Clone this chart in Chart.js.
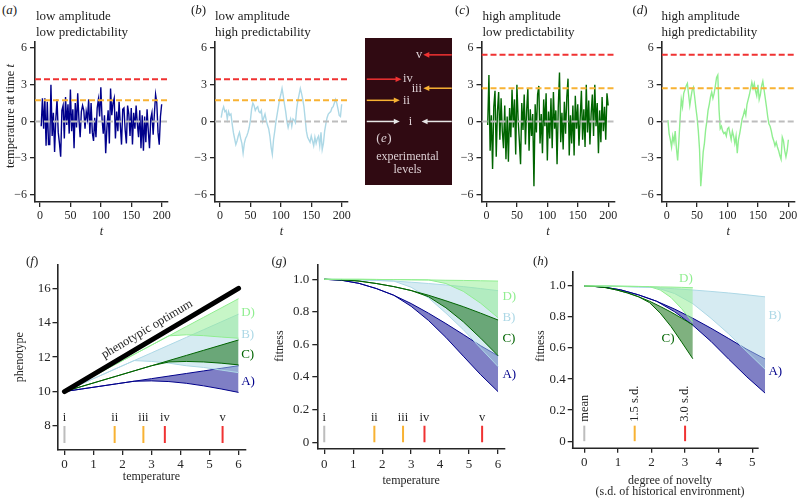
<!DOCTYPE html>
<html><head><meta charset="utf-8">
<script src="https://cdn.jsdelivr.net/npm/chart.js@4/dist/chart.umd.min.js"></script>
<style>
html,body{margin:0;padding:0;width:798px;height:500px;overflow:hidden;background:#fff;position:relative;}
canvas{position:absolute;}
.t{position:absolute;font-family:'Liberation Serif','Times New Roman',serif;color:#222;white-space:nowrap;font-size:13px;line-height:15px;z-index:2;}
</style></head><body>
<script>
// ---------------- DATA ----------------
const timeSteps = []; for (let t = 2; t <= 200; t += 2) timeSteps.push(t);
// (a) low amplitude, low predictability
const seriesA = [
 -0.4, 1.9, -0.6, 1.9, -2.0, 1.6, -1.9, -1.9, 3.0, -1.2,
 0.7, -2.5, 0.2, 1.8, -0.9, -1.8, -2.9, 0.9, 1.3, -1.4,
 2.0, -0.3, 1.4, -1.0, 2.6, -0.8, 1.0, -2.2, 1.5, -0.5,
 2.3, 0.2, -1.3, 0.8, 1.3, 0.9, -0.6, 0.8, 0.2, 1.8,
 -1.0, 1.5, -0.9, -1.6, 0.3, -1.3, 1.1, 1.8, 0.4, 2.8,
 0.2, -1.0, 0.5, -2.6, -0.5, 0.9, -1.8, 2.7, 0.5, 1.5,
 1.9, -1.4, 0.8, -0.8, 1.6, -0.3, -1.9, 1.0, 1.1, -0.7,
 -1.8, 1.3, 0.6, -1.2, 1.1, -1.9, 0.7, -0.6, 1.3, -0.2,
 -1.3, 0.9, -2.2, 0.5, -2.4, 0.4, -1.7, 1.0, -0.8, -2.2,
 0.2, 0.7, -1.1, 0.6, 2.2, 1.5, -0.9, -1.9, 0.4, 1.4];
// (b) low amplitude, high predictability
const seriesB = [
 0.3, 0.9, 1.2, 0.8, 0.9, 0.2, 0.8, 0.5, 0.6, -0.2,
 -0.9, -1.4, -1.9, -1.6, -1.2, -0.9, -1.4, -1.8, -2.6, -1.8,
 -1.4, -1.2, -0.9, -0.5, 0.1, 1.0, 1.5, 1.3, 0.9, 1.1,
 1.2, 0.8, 0.7, 0.9, 0.0, 0.3, 0.6, 0.1, -0.3, -0.6,
 -1.2, -2.1, -2.7, -1.5, -0.8, 0.0, 0.6, 1.2, 1.8, 2.2,
 2.7, 2.1, 1.4, 0.8, 0.0, -0.5, -0.1, 0.2, -0.4, 0.2,
 0.1, -0.1, 1.0, 1.7, 2.2, 2.7, 2.3, 1.8, 1.2, 0.2,
 -0.8, -1.3, -1.5, -1.7, -1.2, -1.6, -2.0, -1.3, -1.8, -1.4,
 -1.2, -2.0, -0.9, -2.3, -1.8, -0.8, -0.2, 0.3, 0.6, 0.7,
 0.8, 1.1, 1.2, 1.5, 1.8, 1.5, 1.0, 0.5, 0.4, 1.4];
// (c) high amplitude, low predictability
const seriesC = [
 -0.3, 3.8, -2.4, 0.5, -3.9, 1.2, 2.5, -2.9, 0.8, 2.4,
 -1.5, 1.9, -0.8, -2.2, 1.3, -3.1, 0.4, -3.3, 1.1, -1.3,
 2.6, -0.5, 1.8, -2.7, 3.0, 0.2, -1.6, -3.5, 1.5, -0.7,
 2.2, -1.9, 0.9, 2.7, -2.4, 1.0, -1.2, 0.6, -5.3, 1.4,
 -0.9, 2.2, 2.9, -1.8, 0.6, -2.6, 1.8, -0.4, 2.3, -3.2,
 0.8, -1.4, 1.9, -2.2, 2.4, -0.6, 0.9, -3.5, 1.2, 4.0,
 -1.7, 0.7, -2.3, 1.6, -1.0, 2.0, 3.5, -2.8, 0.5, -1.8,
 1.3, -2.8, 2.1, -0.6, 1.4, -2.0, 0.3, 2.5, -1.5, 1.0,
 -2.1, 3.0, -0.9, 1.7, -1.9, 0.6, 2.2, -1.2, 3.0, -0.4,
 1.5, -2.6, 0.9, -1.7, 2.0, -0.8, 1.2, -1.5, 2.3, 1.3];
// (d) high amplitude, high predictability
const seriesD = [
 0.1, -1.0, -1.5, -2.1, -1.2, -1.7, -0.8, -2.2, -3.2, -1.6,
 0.2, 1.8, 1.2, 2.3, 2.6, 2.9, 3.1, 2.2, 1.3, 2.0,
 2.6, 2.8, 2.0, 1.1, 0.3, -0.8, -2.3, -5.3, -4.0, -2.5,
 -1.8, -0.7, 0.0, 0.9, 1.4, 2.0, 2.4, 1.9, 2.3, 2.9,
 3.6, 3.8, 1.0, -0.6, -0.4, -0.8, -1.0, -0.9, -1.2, -0.6,
 -0.5, -1.0, -1.5, -0.8, -1.2, -1.8, -1.2, -2.6, -1.5, -1.0,
 -0.4, 0.2, 0.5, 0.9, 0.5, 1.4, 1.8, 2.2, 2.7, 3.2,
 2.7, 3.1, 2.5, 2.1, 3.0, 1.8, 2.2, 2.9, 3.3, 2.6,
 1.9, 1.2, 0.4, -0.2, -0.4, -0.8, -1.3, -1.6, -2.0, -1.7,
 -2.1, -2.4, -2.8, -3.1, -1.3, -1.6, -2.4, -2.9, -2.4, -1.5];

// experimental levels (temperature): i, ii, iii, iv, v
const levelNames = ['i', 'ii', 'iii', 'iv', 'v'];
const levelValues = [0, 1.73, 2.72, 3.46, 5.45];
const lowAmpLevels = [0, 1.73, 3.46];   // i, ii, iv
const highAmpLevels = [0, 2.72, 5.45];  // i, iii, v
const noveltyNames = ['mean', '1.5 s.d.', '3.0 s.d.'];
const noveltyValues = [0, 1.5, 3.0];

// tick labels
const tsTicksX = [0, 50, 100, 150, 200];
const tsTicksY = [-6, -3, 0, 3, 6];
const tempTicks = [0, 1, 2, 3, 4, 5, 6];
const phenoTicks = [8, 10, 12, 14, 16];
const fitTicks = [0, 0.2, 0.4, 0.6, 0.8, 1.0];
const novTicks = [0, 1, 2, 3, 4, 5];

// (f) phenotype vs temperature
const optimumTemp = [0, 6];
const optimumPheno = [10, 16];
const tempGrid = [0, 0.6, 1.2, 1.8, 2.4, 3, 3.6, 4.2, 4.8, 5.4, 6];
const phenoAUp = [10, 10.15, 10.3, 10.45, 10.6, 10.75, 10.9, 11.05, 11.2, 11.35, 11.5];
const phenoALo = [10, 10.15, 10.3, 10.45, 10.6, 10.62, 10.58, 10.48, 10.33, 10.15, 9.95];
const phenoBUp = [10, 10.45, 10.9, 11.35, 11.8, 12.25, 12.7, 13.15, 13.6, 14.05, 14.5];
const phenoBLo = [10, 10.45, 10.9, 11.35, 11.8, 11.75, 11.65, 11.5, 11.4, 11.25, 11.1];
const phenoCUp = [10, 10.3, 10.6, 10.9, 11.2, 11.5, 11.8, 12.1, 12.4, 12.7, 13.0];
const phenoCLo = [10, 10.3, 10.6, 10.9, 11.2, 11.5, 11.72, 11.75, 11.72, 11.65, 11.55];
const phenoDUp = [10, 10.54, 11.08, 11.62, 12.16, 12.7, 13.24, 13.78, 14.32, 14.86, 15.4];
const phenoDLo = [10, 10.54, 11.08, 11.62, 12.16, 12.7, 13.24, 13.3, 13.25, 13.17, 13.1];

// (g) fitness vs temperature
const fitAUp = [1, 0.994, 0.975, 0.943, 0.902, 0.851, 0.792, 0.728, 0.661, 0.592, 0.53];
const fitALo = [1, 0.994, 0.975, 0.943, 0.902, 0.834, 0.747, 0.643, 0.528, 0.414, 0.31];
const fitBUp = [1, 0.999, 0.997, 0.993, 0.989, 0.982, 0.974, 0.965, 0.955, 0.943, 0.93];
const fitBLo = [1, 0.999, 0.997, 0.993, 0.989, 0.951, 0.886, 0.792, 0.691, 0.577, 0.464];
const fitCUp = [1, 0.997, 0.989, 0.974, 0.955, 0.931, 0.902, 0.868, 0.832, 0.792, 0.75];
const fitCLo = [1, 0.997, 0.989, 0.974, 0.955, 0.931, 0.893, 0.825, 0.739, 0.638, 0.531];
const fitDUp = [1, 1.0, 1.0, 0.999, 0.998, 0.997, 0.996, 0.994, 0.993, 0.991, 0.989];
const fitDLo = [1, 1.0, 1.0, 0.999, 0.998, 0.997, 0.996, 0.974, 0.926, 0.853, 0.764];

// (h) fitness vs degree of novelty
const novGridLowAmp = [0, 0.54, 1.08, 1.61, 2.15, 2.69, 3.23, 3.77, 4.30, 4.84, 5.38];
const novGridHighAmp = [0, 0.32, 0.65, 0.97, 1.29, 1.61, 1.94, 2.26, 2.58, 2.90, 3.23];

// ---------------- STYLE ----------------
const FONT = "'Liberation Serif','Times New Roman',serif";
const AXIS = '#262626', TXT = '#262626';
const NAVY = '#00008b', LBLUE = '#add8e6', DGREEN = '#006400', LGREEN = '#90ee90';
const FILL = {A: 'rgba(0,0,139,0.5)', B: 'rgba(173,216,230,0.5)', C: 'rgba(0,100,0,0.5)', D: 'rgba(144,238,144,0.5)'};
const LV_GRAY = '#bdbdbd', LV_ORANGE = '#f8b233', LV_RED = '#f03232';
const levelColors = [LV_GRAY, LV_ORANGE, LV_ORANGE, LV_RED, LV_RED];
const tsLevelColors = [LV_GRAY, LV_ORANGE, LV_RED];

// ---------------- HELPERS ----------------
function addText(html, x, y, extra) {
  const d = document.createElement('div');
  d.className = 't'; d.innerHTML = html;
  d.style.left = x + 'px'; d.style.top = y + 'px';
  if (extra) Object.assign(d.style, extra);
  document.body.appendChild(d);
}
function buildCanvas(b) {
  const c = document.createElement('canvas');
  c.width = b.w; c.height = b.h;
  c.style.left = b.x + 'px'; c.style.top = b.y + 'px';
  c.style.width = b.w + 'px'; c.style.height = b.h + 'px';
  document.body.appendChild(c);
  return c;
}
function setOrder(ds) { ds.forEach((d, i) => { d.order = ds.length - i; d.pointRadius = 0; if (d.fill === undefined) d.fill = false; }); return ds; }
function pts(xs, ys) { return xs.map((x, i) => ({x, y: ys[i]})); }
const fmtMinus = v => String(v).replace('-', '\u2212');
const fmtFit = v => v === 0 ? '0' : v.toFixed(1);
const fmtPlain = v => String(v);

function scale(o) {
  const horiz = o.pos === 'bottom';
  return {
    type: 'linear', position: o.pos, min: o.min, max: o.max,
    afterBuildTicks: s => { s.ticks = o.ticks.map(v => ({value: v})); },
    afterFit: s => { if (horiz) s.height = o.size; else s.width = o.size; },
    grid: {display: true, drawOnChartArea: false, drawTicks: true, tickLength: 5, color: AXIS, lineWidth: 1.3},
    border: {display: o.noBorder ? false : true, color: AXIS, width: 1.6},
    ticks: {autoSkip: false, maxRotation: 0, minRotation: 0, padding: o.tickPad, color: TXT,
      font: {family: FONT, size: o.fontSize}, callback: o.fmt},
    title: o.title ? {display: true, text: o.title, color: TXT,
      font: Object.assign({family: FONT, size: 12}, o.titleFont || {}), padding: o.titlePad} : {display: false}
  };
}
function textPlugin(items) {
  return {
    id: 'txt',
    afterDatasetsDraw(chart) {
      const {ctx} = chart; const xs = chart.scales.x, ys = chart.scales.y;
      for (const it of items) {
        ctx.save();
        ctx.translate(xs.getPixelForValue(it.x), ys.getPixelForValue(it.y));
        const rot = typeof it.rot === 'function' ? it.rot(chart) : (it.rot || 0);
        ctx.rotate(rot);
        ctx.font = (it.style || 'normal') + ' ' + (it.size || 13) + 'px ' + FONT;
        ctx.fillStyle = it.color || TXT;
        ctx.textAlign = it.align || 'center';
        ctx.textBaseline = it.baseline || 'middle';
        ctx.fillText(it.text, 0, 0);
        ctx.restore();
      }
    }
  };
}
// x-axis line that stops at a given value (data may run past it)
function axisLinePlugin(xEnd) {
  return {
    id: 'axline',
    afterDraw(chart) {
      const {ctx, chartArea} = chart;
      const x1 = chart.scales.x.getPixelForValue(xEnd);
      ctx.save(); ctx.strokeStyle = AXIS; ctx.lineWidth = 1.6;
      ctx.beginPath(); ctx.moveTo(chartArea.left - 0.8, chartArea.bottom + 0.5); ctx.lineTo(x1, chartArea.bottom + 0.5); ctx.stroke();
      ctx.restore();
    }
  };
}
function makeChart(canvasBox, area, scales, datasets, plugins) {
  const cv = buildCanvas(canvasBox);
  return new Chart(cv, {
    type: 'line',
    data: {datasets: setOrder(datasets)},
    options: {
      responsive: false, animation: false, events: [],
      layout: {padding: {left: 0, bottom: 0, top: area.t - canvasBox.y, right: canvasBox.x + canvasBox.w - area.r}},
      plugins: {legend: {display: false}, tooltip: {enabled: false}, title: {display: false}},
      elements: {line: {tension: 0}, point: {radius: 0}},
      scales
    },
    plugins: plugins || []
  });
}

// ---------------- TOP PANELS (a)-(d) ----------------
const TS_X = [-8.2, 210.4], TS_Y = [-6.6, 6.5];
const TS_TOP = 42, TS_BOTTOM = 202, TS_W = 133;
const topPanels = [
  {x: 0, axis: 35, values: seriesA, color: NAVY, levels: lowAmpLevels},
  {x: 180, axis: 215, values: seriesB, color: LBLUE, levels: lowAmpLevels},
  {x: 446, axis: 481.5, values: seriesC, color: DGREEN, levels: highAmpLevels},
  {x: 627, axis: 661.7, values: seriesD, color: LGREEN, levels: highAmpLevels}
];
topPanels.forEach(p => {
  const box = {x: p.x, y: 30, w: 185, h: 215};
  const area = {t: TS_TOP, r: p.axis + TS_W};
  const ds = [{data: pts(timeSteps, p.values), borderColor: p.color, borderWidth: 1.4}];
  p.levels.forEach((lv, i) => ds.push({data: [{x: TS_X[0], y: lv}, {x: TS_X[1], y: lv}],
    borderColor: tsLevelColors[i], borderWidth: 2, borderDash: [6, 3]}));
  makeChart(box, area, {
    x: scale({pos: 'bottom', min: TS_X[0], max: TS_X[1], ticks: tsTicksX, size: box.y + box.h - TS_BOTTOM,
      fmt: fmtPlain, tickPad: 2, fontSize: 12, title: 't', titleFont: {style: 'italic', size: 12.5}, titlePad: {top: 0, bottom: 5.8}}),
    y: scale({pos: 'left', min: TS_Y[0], max: TS_Y[1], ticks: tsTicksY, size: p.axis - p.x,
      fmt: fmtMinus, tickPad: 3, fontSize: 12})
  }, ds);
});

// ---------------- PANEL (e) ----------------
(function () {
  const box = {x: 365, y: 38, w: 87, h: 147};
  const cv = buildCanvas(box);
  cv.style.background = '#300a12';
  const ECOL = '#dccfd3';
  const arrows = [
    {lv: levelValues[4], from: 0.997, to: 0.67, color: LV_RED},
    {lv: levelValues[3], from: 0.02, to: 0.42, color: LV_RED},
    {lv: levelValues[2], from: 0.997, to: 0.67, color: LV_ORANGE},
    {lv: levelValues[1], from: 0.02, to: 0.40, color: LV_ORANGE},
    {lv: levelValues[0], from: 0.02, to: 0.40, color: '#e6e6e6'},
    {lv: levelValues[0], from: 0.997, to: 0.65, color: '#e6e6e6'}
  ];
  const labelX = [0.523, 0.477, 0.596, 0.492, 0.623];
  const ePlugin = {
    id: 'eplug',
    afterDraw(chart) {
      const {ctx} = chart; const xs = chart.scales.x, ys = chart.scales.y;
      arrows.forEach(a => {
        const x0 = xs.getPixelForValue(a.from), x1 = xs.getPixelForValue(a.to), y = ys.getPixelForValue(a.lv);
        const dir = Math.sign(x1 - x0);
        ctx.save(); ctx.strokeStyle = a.color; ctx.fillStyle = a.color; ctx.lineWidth = 1.5;
        ctx.beginPath(); ctx.moveTo(x0, y); ctx.lineTo(x1 - dir * 4, y); ctx.stroke();
        ctx.beginPath(); ctx.moveTo(x1, y); ctx.lineTo(x1 - dir * 6, y - 2.8); ctx.lineTo(x1 - dir * 6, y + 2.8); ctx.closePath(); ctx.fill();
        ctx.restore();
      });
      ctx.save(); ctx.fillStyle = ECOL; ctx.textAlign = 'center'; ctx.textBaseline = 'middle';
      ctx.font = '12.5px ' + FONT;
      levelNames.forEach((n, i) => ctx.fillText(n, xs.getPixelForValue(labelX[i]), ys.getPixelForValue(levelValues[i])));
      ctx.font = '13px ' + FONT;
      ctx.fillText('(', 13.5, 100.5); ctx.fillText(')', 24.5, 100.5);
      ctx.font = 'italic 13px ' + FONT; ctx.fillText('e', 19, 100.5);
      ctx.font = '12px ' + FONT;
      ctx.fillText('experimental', 42.5, 118.5);
      ctx.fillText('levels', 42.5, 132);
      ctx.restore();
    }
  };
  new Chart(cv, {
    type: 'line', data: {datasets: []},
    options: {responsive: false, animation: false, events: [], layout: {padding: 0},
      plugins: {legend: {display: false}, tooltip: {enabled: false}},
      scales: {x: {type: 'linear', min: 0, max: 1, display: false}, y: {type: 'linear', min: -5.2, max: 6.83, display: false}}},
    plugins: [ePlugin]
  });
})();

// ---------------- BOTTOM PANELS ----------------
function bandSets(xs, lo, up, color, fill) {
  return [
    {data: pts(xs, lo), borderColor: color, borderWidth: 1, fill: false},
    {data: pts(xs, up), borderColor: color, borderWidth: 1, fill: '-1', backgroundColor: fill}
  ];
}
function levelSets(vals, cols, y0, y1) {
  return vals.map((v, i) => ({data: [{x: v, y: y0}, {x: v, y: y1}], borderColor: cols[i], borderWidth: 2, fill: false}));
}
const bandLabelStyle = [{t: 'D)', c: LGREEN}, {t: 'B)', c: LBLUE}, {t: 'C)', c: DGREEN}, {t: 'A)', c: NAVY}];

// (f)
(function () {
  const box = {x: 0, y: 250, w: 262, h: 250}, area = {t: 264.3, r: 245.5};
  const ds = [
    ...bandSets(tempGrid, phenoALo, phenoAUp, NAVY, FILL.A),
    ...bandSets(tempGrid, phenoBLo, phenoBUp, LBLUE, FILL.B),
    ...bandSets(tempGrid, phenoCLo, phenoCUp, DGREEN, FILL.C),
    ...bandSets(tempGrid, phenoDLo, phenoDUp, LGREEN, FILL.D),
    {data: pts(optimumTemp, optimumPheno), borderColor: '#000', borderWidth: 5, borderCapStyle: 'round', fill: false},
    ...levelSets(levelValues, levelColors, 7, 8)
  ];
  const labelPos = [[6.09, 14.58], [6.09, 13.3], [6.09, 12.14], [6.09, 10.58]];
  const texts = [
    ...levelValues.map((v, i) => ({x: v, y: 8.45, text: levelNames[i], size: 12.5})),
    ...bandLabelStyle.map((b, i) => ({x: labelPos[i][0], y: labelPos[i][1], text: b.t, color: b.c, align: 'left', size: 13})),
    {x: 2.85, y: 13.62, text: 'phenotypic optimum', size: 12.5,
      rot: ch => Math.atan2(ch.scales.y.getPixelForValue(16) - ch.scales.y.getPixelForValue(10), ch.scales.x.getPixelForValue(6) - ch.scales.x.getPixelForValue(0))}
  ];
  makeChart(box, area, {
    x: scale({pos: 'bottom', min: -0.24, max: 6.24, ticks: tempTicks, size: 50, fmt: fmtPlain, tickPad: 1.5, fontSize: 13,
      title: 'temperature', titlePad: {top: 0, bottom: 15.5}}),
    y: scale({pos: 'left', min: 6.6, max: 17.4, ticks: phenoTicks, size: 57.5, fmt: fmtPlain, tickPad: 1.8, fontSize: 13,
      title: 'phenotype', titlePad: {top: 12.8, bottom: 0}})
  }, ds, [textPlugin(texts)]);
})();

// (g)
(function () {
  const box = {x: 262, y: 250, w: 262, h: 250}, area = {t: 264.3, r: 505};
  const ds = [
    ...bandSets(tempGrid, fitALo, fitAUp, NAVY, FILL.A),
    ...bandSets(tempGrid, fitBLo, fitBUp, LBLUE, FILL.B),
    ...bandSets(tempGrid, fitCLo, fitCUp, DGREEN, FILL.C),
    ...bandSets(tempGrid, fitDLo, fitDUp, LGREEN, FILL.D),
    ...levelSets(levelValues, levelColors, 0, 0.1)
  ];
  const labelPos = [[6.15, 0.896], [6.15, 0.763], [6.15, 0.636], [6.15, 0.415]];
  const texts = [
    ...levelValues.map((v, i) => ({x: v, y: 0.15, text: levelNames[i], size: 12.5})),
    ...bandLabelStyle.map((b, i) => ({x: labelPos[i][0], y: labelPos[i][1], text: b.t, color: b.c, align: 'left', size: 13}))
  ];
  makeChart(box, area, {
    x: scale({pos: 'bottom', min: -0.24, max: 6.24, ticks: tempTicks, size: 51, fmt: fmtPlain, tickPad: 2.5, fontSize: 13,
      title: 'temperature', titlePad: {top: 0, bottom: 11.8}}),
    y: scale({pos: 'left', min: -0.042, max: 1.092, ticks: fitTicks, size: 55.3, fmt: fmtFit, tickPad: 3, fontSize: 13})
  }, ds, [textPlugin(texts)]);
})();

// (h)  x axis runs to 5.45 so the bands (ending at 5.38) are not clipped; axis line drawn to 5.19
(function () {
  const H_AXIS_END = 5.19, H_X_MAX = 5.45;
  const box = {x: 524, y: 250, w: 274, h: 250}, area = {t: 271.7, r: 767.4};
  const ds = [
    ...bandSets(novGridLowAmp, fitALo, fitAUp, NAVY, FILL.A),
    ...bandSets(novGridLowAmp, fitBLo, fitBUp, LBLUE, FILL.B),
    ...bandSets(novGridHighAmp, fitCLo, fitCUp, DGREEN, FILL.C),
    ...bandSets(novGridHighAmp, fitDLo, fitDUp, LGREEN, FILL.D),
    ...levelSets(noveltyValues, [LV_GRAY, LV_ORANGE, LV_RED], 0, 0.1)
  ];
  const labelPos = [[2.82, 1.047], [5.48, 0.812], [2.3, 0.662], [5.48, 0.449]];
  const texts = [
    ...noveltyValues.map((v, i) => ({x: v, y: 0.125, text: noveltyNames[i], size: 12.5, align: 'left', rot: -Math.PI / 2})),
    ...bandLabelStyle.map((b, i) => ({x: labelPos[i][0], y: labelPos[i][1], text: b.t, color: b.c, align: 'left', size: 13}))
  ];
  ds.forEach(d => d.clip = false);
  makeChart(box, area, {
    x: scale({pos: 'bottom', min: -0.345, max: H_X_MAX, ticks: novTicks, size: 52.3, fmt: fmtPlain, tickPad: 2, fontSize: 13, noBorder: true,
      title: ['degree of novelty', '(s.d. of historical environment)'], titleFont: {lineHeight: 0.9}, titlePad: {top: 0, bottom: 2.8}}),
    y: scale({pos: 'left', min: -0.042, max: 1.092, ticks: fitTicks, size: 48.7, fmt: fmtFit, tickPad: 2, fontSize: 13})
  }, ds, [textPlugin(texts), axisLinePlugin(H_AXIS_END)]);
})();

// ---------------- HTML TEXT ----------------
addText('(<i>a</i>)', 2, 2);
addText('low amplitude', 36, 7.5); addText('low predictability', 36, 23.5);
addText('(<i>b</i>)', 191, 2);
addText('low amplitude', 215, 7.5); addText('high predictability', 215, 23.5);
addText('(<i>c</i>)', 455, 2);
addText('high amplitude', 482.5, 7.5); addText('low predictability', 482.5, 23.5);
addText('(<i>d</i>)', 632.5, 2);
addText('high amplitude', 661.5, 7.5); addText('high predictability', 661.5, 23.5);
addText('temperature at time <i>t</i>', 10, 116, {fontSize: '12.5px', transform: 'translate(-50%,-50%) rotate(-90deg)'});
addText('fitness', 278.5, 346, {fontSize: '12px', transform: 'translate(-50%,-50%) rotate(-90deg)'});
addText('fitness', 539.5, 346, {fontSize: '12px', transform: 'translate(-50%,-50%) rotate(-90deg)'});
addText('(<i>f</i>)', 26, 252.5);
addText('(<i>g</i>)', 271.5, 252.5);
addText('(<i>h</i>)', 533, 252.5);
</script>
</body></html>
